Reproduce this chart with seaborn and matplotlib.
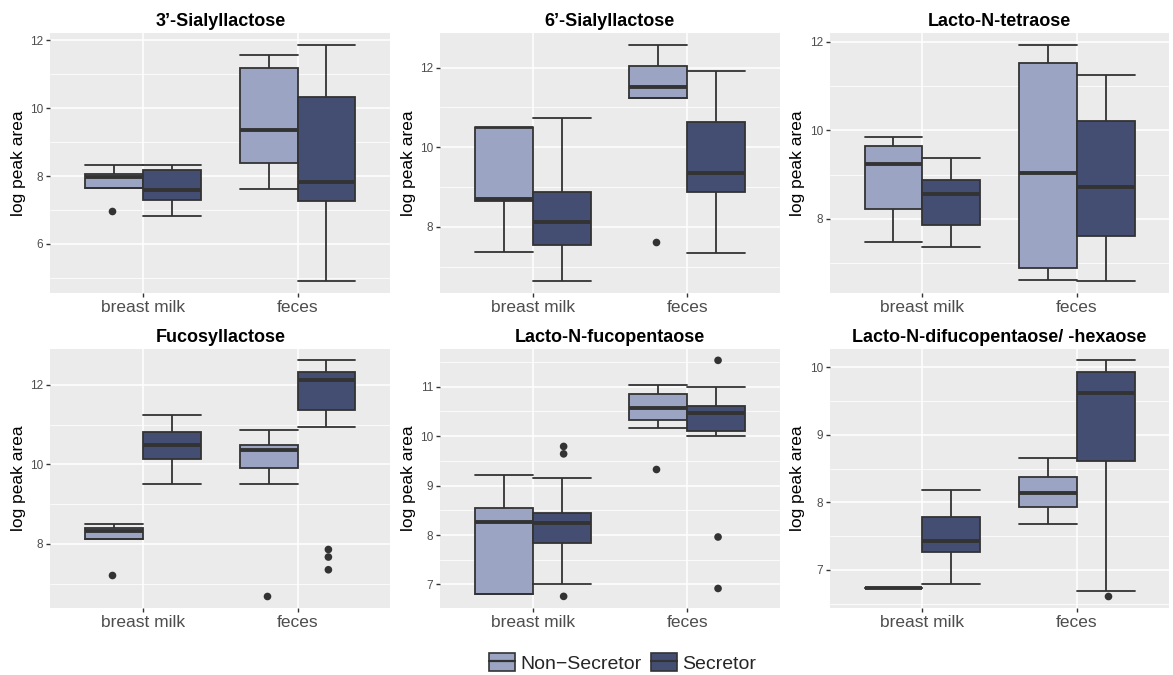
import numpy as np
import pandas as pd
import matplotlib
matplotlib.use("Agg")
import matplotlib.pyplot as plt
from matplotlib.patches import Patch
from matplotlib.lines import Line2D
from matplotlib.legend_handler import HandlerTuple
from matplotlib.ticker import AutoMinorLocator
import seaborn as sns

# ---- data -------------------------------------------------------------
sources = ["breast milk", "feces"]
groups = ["Non\u2212Secretor", "Secretor"]
compounds = [
    "3\u2019-Sialyllactose",
    "6\u2019-Sialyllactose",
    "Lacto-N-tetraose",
    "Fucosyllactose",
    "Lacto-N-fucopentaose",
    "Lacto-N-difucopentaose/ -hexaose",
]

# five-number summaries (lower whisker, Q1, median, Q3, upper whisker),
# ordered: milk/non-secretor, milk/secretor, feces/non-secretor, feces/secretor
sl3_stats = [[7.65, 7.65, 7.98, 8.07, 8.33],
             [6.81, 7.30, 7.60, 8.19, 8.33],
             [7.62, 8.38, 9.37, 11.18, 11.56],
             [4.91, 7.27, 7.82, 10.33, 11.87]]
sl6_stats = [[7.37, 8.66, 8.69, 10.48, 10.51],
             [6.64, 7.54, 8.13, 8.88, 10.74],
             [11.23, 11.23, 11.51, 12.03, 12.57],
             [7.33, 8.88, 9.34, 10.64, 11.92]]
lnt_stats = [[7.48, 8.23, 9.25, 9.64, 9.84],
             [7.36, 7.86, 8.57, 8.88, 9.38],
             [6.62, 6.90, 9.04, 11.51, 11.93],
             [6.60, 7.62, 8.72, 10.21, 11.26]]
fl_stats = [[8.13, 8.13, 8.32, 8.40, 8.51],
            [9.52, 10.13, 10.48, 10.82, 11.24],
            [9.50, 9.92, 10.37, 10.49, 10.86],
            [10.93, 11.38, 12.13, 12.32, 12.62]]
lnfp_stats = [[6.81, 6.81, 8.26, 8.55, 9.22],
              [7.02, 7.84, 8.24, 8.44, 9.16],
              [10.16, 10.32, 10.57, 10.85, 11.03],
              [10.00, 10.11, 10.47, 10.61, 11.00]]
lndfh_stats = [[6.73, 6.73, 6.73, 6.73, 6.73],
               [6.80, 7.27, 7.43, 7.78, 8.19],
               [7.68, 7.93, 8.14, 8.38, 8.65],
               [6.69, 8.61, 9.61, 9.93, 10.10]]

# outlying observations: (source, group, value)
sl3_out = [("breast milk", groups[0], 6.97)]
sl6_out = [("feces", groups[0], 7.62)]
lnt_out = []
fl_out = [("breast milk", groups[0], 7.23),
          ("feces", groups[0], 6.68),
          ("feces", groups[1], 7.86),
          ("feces", groups[1], 7.67),
          ("feces", groups[1], 7.35)]
lnfp_out = [("breast milk", groups[1], 9.79),
            ("breast milk", groups[1], 9.64),
            ("breast milk", groups[1], 6.76),
            ("feces", groups[0], 9.33),
            ("feces", groups[1], 11.53),
            ("feces", groups[1], 7.96),
            ("feces", groups[1], 6.92)]
lndfh_out = [("feces", groups[1], 6.61)]

all_stats = [sl3_stats, sl6_stats, lnt_stats, fl_stats, lnfp_stats, lndfh_stats]
all_out = [sl3_out, sl6_out, lnt_out, fl_out, lnfp_out, lndfh_out]

# y-axis breaks per panel
yticks = [[6, 8, 10, 12], [8, 10, 12], [8, 10, 12],
          [8, 10, 12], [7, 8, 9, 10, 11], [7, 8, 9, 10]]

# ---- style ------------------------------------------------------------
sns.set_theme(style="whitegrid")
plt.rcParams["font.family"] = ["Liberation Sans", "DejaVu Sans"]
plt.rcParams["axes.facecolor"] = "#EBEBEB"
plt.rcParams["grid.color"] = "white"

fill_colors = {groups[0]: "#9BA5C3", groups[1]: "#434E72"}
edge = "#333333"
box_width = 0.75
dodged_width = box_width / len(groups)

fig, axes = plt.subplots(2, 3, figsize=(11.73, 6.75), dpi=100)
fig.subplots_adjust(left=0.043, right=0.997, top=0.951, bottom=0.099,
                    wspace=0.147, hspace=0.215)

combos = [(s, g) for s in sources for g in groups]

for ax, name, stats, outs, ticks in zip(axes.flat, compounds, all_stats,
                                        all_out, yticks):
    rows = []
    for (s, g), five in zip(combos, stats):
        for v in five:
            rows.append({"source": s, "group": g, "value": v})
    df = pd.DataFrame(rows)

    n_before = len(ax.lines)
    sns.boxplot(data=df, x="source", y="value", hue="group",
                order=sources, hue_order=groups, palette=fill_colors,
                saturation=1, width=box_width, gap=0, whis=(0, 100),
                showfliers=False, linecolor=edge, linewidth=1.3,
                medianprops=dict(linewidth=2.8, color=edge),
                legend=False, ax=ax)

    # whisker caps span the full width of each box
    for ln in ax.lines[n_before:]:
        xs, ys = np.asarray(ln.get_xdata(), float), np.asarray(ln.get_ydata(), float)
        if len(xs) == 2 and ys[0] == ys[1] and abs(xs[1] - xs[0]) < dodged_width * 0.9:
            c = xs.mean()
            ln.set_xdata([c - dodged_width / 2, c + dodged_width / 2])

    if outs:
        odf = pd.DataFrame(outs, columns=["source", "group", "value"])
        sns.stripplot(data=odf, x="source", y="value", hue="group",
                      order=sources, hue_order=groups,
                      palette={g: edge for g in groups}, dodge=True,
                      jitter=False, size=5.5, linewidth=0, legend=False,
                      ax=ax)

    ax.set_xlim(-0.6, 1.6)
    ax.margins(y=0.05)
    ax.set_yticks(ticks)
    ax.yaxis.set_minor_locator(AutoMinorLocator(2))
    ax.grid(which="major", axis="both", color="white", linewidth=1.1)
    ax.grid(which="minor", axis="y", color="white", linewidth=0.55)
    ax.grid(which="minor", axis="x", visible=False)
    ax.set_axisbelow(True)
    for sp in ax.spines.values():
        sp.set_visible(False)
    ax.tick_params(axis="both", which="major", length=3, width=1,
                   color=edge, pad=2, left=True, bottom=True)
    ax.tick_params(axis="y", which="major", labelsize=8.5, labelcolor="#4D4D4D")
    ax.tick_params(axis="x", which="major", labelsize=12.5, labelcolor="#4D4D4D")
    ax.tick_params(which="minor", length=0)
    ax.set_xlabel("")
    ax.set_ylabel("log peak area", fontsize=12.5, color="black", labelpad=3)
    ax.set_title(name, fontsize=13, fontweight="bold", color="black", pad=5)

# legend with boxplot-style keys
handles = []
for g in groups:
    handles.append((Patch(facecolor=fill_colors[g], edgecolor=edge, linewidth=1.2),
                    Line2D([0], [0], color=edge, linewidth=1.6)))
fig.legend(handles, groups, loc="center", bbox_to_anchor=(0.531, 0.018),
           ncol=2, frameon=False, fontsize=14, handlelength=1.3,
           handleheight=1.0, handletextpad=0.3, columnspacing=0.5,
           handler_map={tuple: HandlerTuple(ndivide=1, pad=0)})

fig.savefig("out.png", dpi=100, facecolor="white")
